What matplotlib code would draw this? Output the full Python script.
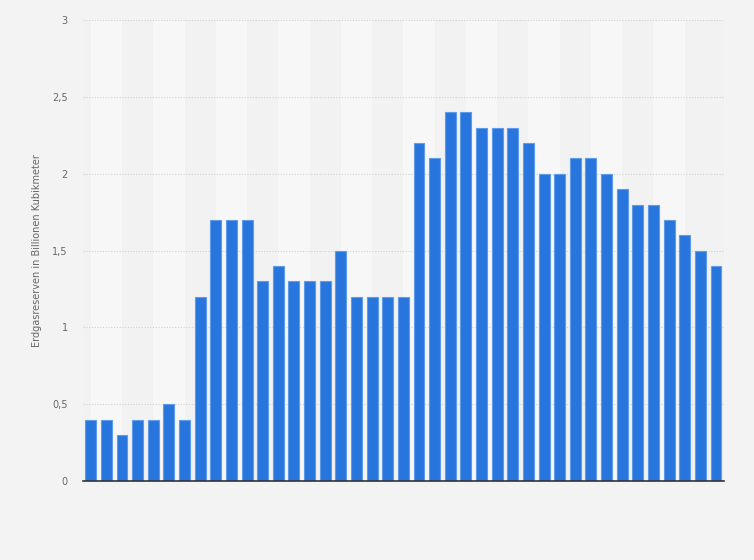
import numpy as np
import matplotlib.pyplot as plt

# Erdgasreserven (Billionen Kubikmeter), one value per year
values = [0.4, 0.4, 0.3, 0.4, 0.4, 0.5, 0.4, 1.2, 1.7, 1.7, 1.7, 1.3, 1.4, 1.3,
          1.3, 1.3, 1.5, 1.2, 1.2, 1.2, 1.2, 2.2, 2.1, 2.4, 2.4, 2.3, 2.3, 2.3,
          2.2, 2.0, 2.0, 2.1, 2.1, 2.0, 1.9, 1.8, 1.8, 1.7, 1.6, 1.5, 1.4]
y_ticks = [0, 0.5, 1, 1.5, 2, 2.5, 3]
y_tick_labels = ["0", "0,5", "1", "1,5", "2", "2,5", "3"]
y_label = "Erdgasreserven in Billionen Kubikmeter"

bg = "#f3f3f3"
fig = plt.figure(figsize=(7.54, 5.6), dpi=100, facecolor=bg)
ax = fig.add_axes([0.110, 0.141, 0.850, 0.823])
ax.set_facecolor("#f2f2f2")

x = np.arange(len(values))

# alternating background bands
for start in range(0, len(values) - 2, 4):
    ax.axvspan(start, start + 2, color="#f7f7f7", zorder=0, lw=0)

ax.bar(x, values, width=0.7, color="#2876dd", edgecolor="#5e9be8",
       linewidth=0.8, zorder=3)

ax.set_xlim(-0.5, len(values) - 0.5)
ax.set_ylim(0, 3)
ax.set_xticks([])
ax.set_yticks(y_ticks)
ax.set_yticklabels(y_tick_labels)
ax.tick_params(axis="y", length=0, pad=11, labelsize=7, colors="#666666")

ax.yaxis.grid(True, color="#d0d0d0", linestyle=(0, (1, 1.5)), linewidth=0.8, zorder=1)
for s in ["top", "right", "left"]:
    ax.spines[s].set_visible(False)
ax.spines["bottom"].set_color("#333333")
ax.spines["bottom"].set_linewidth(1.2)
ax.spines["bottom"].set_zorder(4)

ax.set_ylabel(y_label, fontsize=7, color="#666666", labelpad=7)

fig.savefig("out.png", dpi=100, facecolor=bg)
